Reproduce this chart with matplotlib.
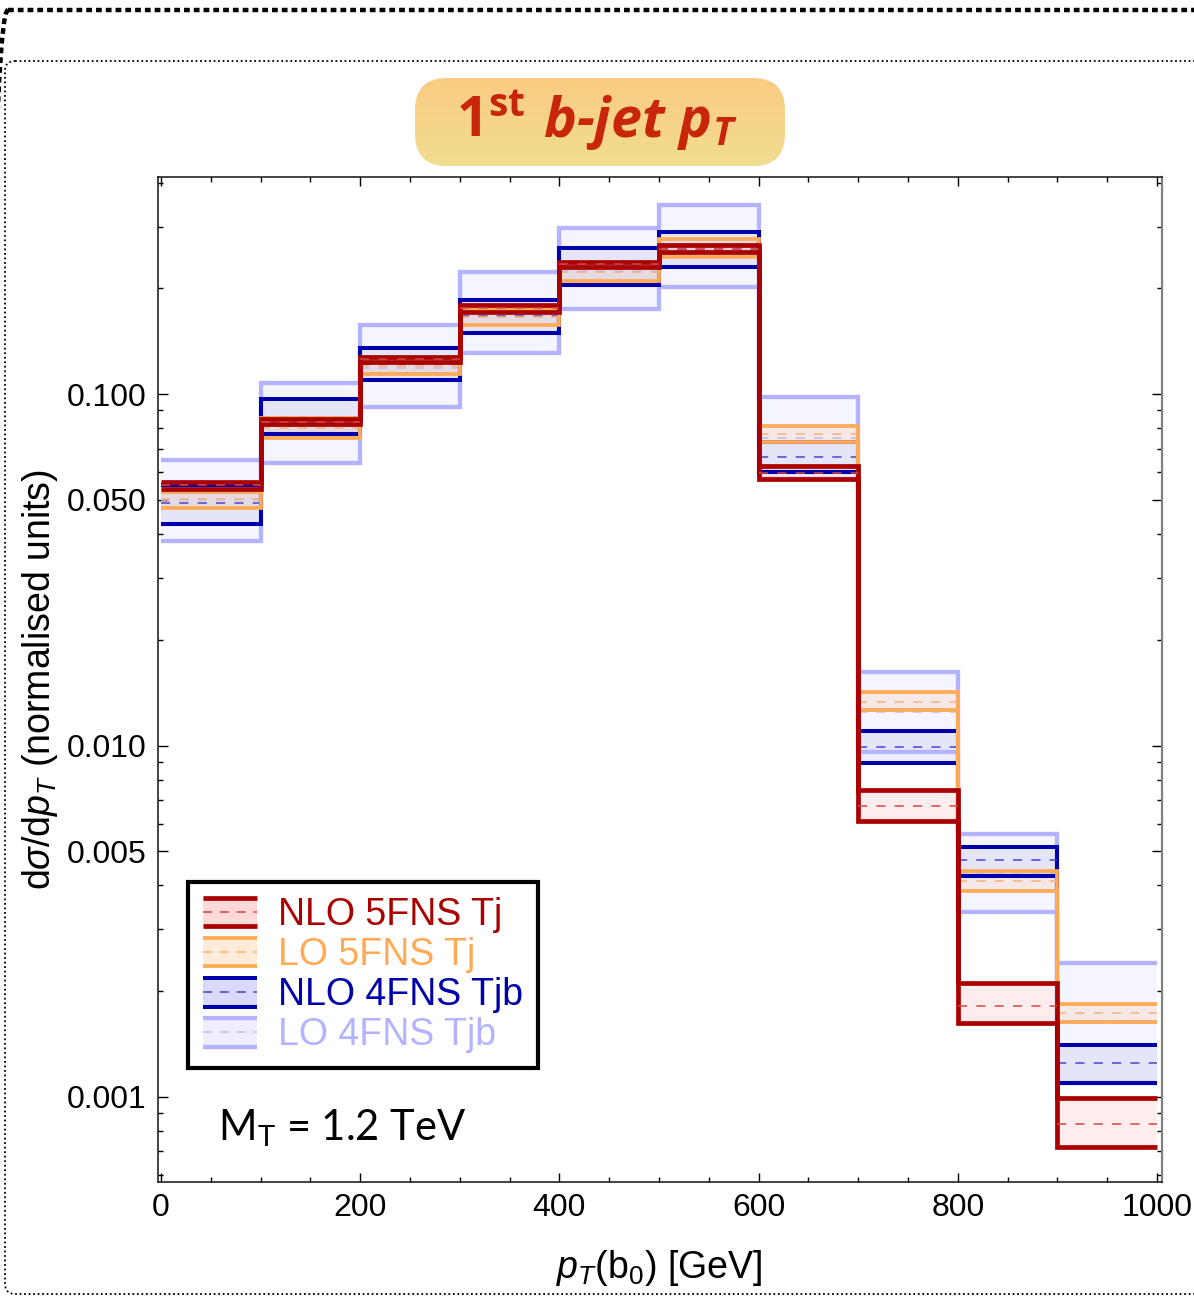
import matplotlib
matplotlib.use('Agg')
import matplotlib.pyplot as plt
import numpy as np
from matplotlib.patches import FancyBboxPatch, Rectangle
from matplotlib.lines import Line2D
from matplotlib.legend_handler import HandlerBase
from matplotlib.ticker import FixedLocator, FixedFormatter, NullFormatter
from matplotlib.colors import LinearSegmentedColormap

plt.rcParams['font.family'] = ['Liberation Sans', 'DejaVu Sans']
plt.rcParams['mathtext.fontset'] = 'custom'
plt.rcParams['mathtext.rm'] = 'Liberation Sans'
plt.rcParams['mathtext.it'] = 'Liberation Sans:italic'
plt.rcParams['mathtext.bf'] = 'Liberation Sans:bold'

# ---------------- data ----------------
edges = [0, 100, 200, 300, 400, 500, 600, 700, 800, 900, 1000]

nlo5_c  = [0.0550, 0.0836, 0.1260, 0.1757, 0.2345, 0.2591, 0.0596, 0.00671, 0.00182, 0.000839]
nlo5_hi = [0.0562, 0.0849, 0.1279, 0.1795, 0.2384, 0.2660, 0.0626, 0.00748, 0.00211, 0.000994]
nlo5_lo = [0.0538, 0.0823, 0.1238, 0.1718, 0.2307, 0.2545, 0.0574, 0.00612, 0.00162, 0.000719]

lo5_c  = [0.0503, 0.0803, 0.1206, 0.1660, 0.2233, 0.2608, 0.0770, 0.01335, 0.00411, 0.00173]
lo5_hi = [0.0527, 0.0856, 0.1268, 0.1749, 0.2361, 0.2766, 0.0813, 0.01420, 0.00439, 0.00184]
lo5_lo = [0.0475, 0.0752, 0.1140, 0.1575, 0.2105, 0.2463, 0.0732, 0.01264, 0.00385, 0.00163]

nlo4_c  = [0.0490, 0.0864, 0.1220, 0.1674, 0.2317, 0.2590, 0.0662, 0.00994, 0.00471, 0.00125]
nlo4_hi = [0.0552, 0.0970, 0.1357, 0.1854, 0.2613, 0.2901, 0.0730, 0.01104, 0.00513, 0.00141]
nlo4_lo = [0.0428, 0.0771, 0.1098, 0.1497, 0.2046, 0.2298, 0.0602, 0.00895, 0.00426, 0.001093]

lo4_c  = [0.0500, 0.0830, 0.1186, 0.1706, 0.2247, 0.2640, 0.0750, 0.01245, 0.00435, 0.00162]
lo4_hi = [0.0649, 0.1079, 0.1575, 0.2224, 0.2978, 0.3456, 0.0984, 0.01625, 0.00561, 0.00240]
lo4_lo = [0.0382, 0.0636, 0.0922, 0.1308, 0.1748, 0.2016, 0.0574, 0.00961, 0.00336, 0.001093]

labels = ['NLO 5FNS Tj', 'LO 5FNS Tj', 'NLO 4FNS Tjb', 'LO 4FNS Tjb']

x_major = [0, 200, 400, 600, 800, 1000]
y_major = [0.001, 0.005, 0.01, 0.05, 0.1]
y_major_labels = ['0.001', '0.005', '0.010', '0.050', '0.100']

# ---------------- styles ----------------
line_cols = ['#AA0000', '#FFAA55', '#0000AA', '#B3B3FF']
dash_cols = ['#D04848', '#F6B37A', '#4646C8', '#BEBEF0']
fill_cols = ['#FF9999', '#FFAA55', '#0000AA', '#B3B3FF']
fill_alpha = [0.18, 0.16, 0.07, 0.13]
leg_fill = ['#FFD9D9', '#FFEBD8', '#DADAFF', '#EEEEFF']
lws = [3.4, 2.7, 2.9, 3.1]

W, H = 1194, 1296
fig = plt.figure(figsize=(W / 100, H / 100), dpi=100)

# ---------------- decorative frames ----------------
bg = fig.add_axes([0, 0, 1, 1], zorder=-10)
bg.set_xlim(0, W)
bg.set_ylim(H, 0)
bg.axis('off')
outer = FancyBboxPatch((-14, 10), W + 60, H + 100,
                       boxstyle='round,pad=0,rounding_size=22', fill=False,
                       ec='black', lw=3.2, linestyle=(0, (1.3, 0.9)))
bg.add_patch(outer)
inner = FancyBboxPatch((5, 61), W + 60, 1294 - 61,
                       boxstyle='round,pad=0,rounding_size=10', fill=False,
                       ec='black', lw=1.3, linestyle=(0, (1, 1.5)))
bg.add_patch(inner)

# ---------------- main axes ----------------
ax = fig.add_axes([157.5 / W, (H - 1181.7) / H, (1161.7 - 157.5) / W, (1181.7 - 177.3) / H])
ax.set_yscale('log')
ax.set_xlim(-3.5, 1004.7)
ax.set_ylim(0.000574, 0.4143)

series = [
    (nlo5_lo, nlo5_c, nlo5_hi),
    (lo5_lo, lo5_c, lo5_hi),
    (nlo4_lo, nlo4_c, nlo4_hi),
    (lo4_lo, lo4_c, lo4_hi),
]
zbase = [8, 6, 4, 2]
for i, (lo, c, hi) in enumerate(series):
    z = zbase[i]
    ax.stairs(hi, edges, baseline=lo, fill=True, color=fill_cols[i],
              alpha=fill_alpha[i], lw=0, zorder=1)
    ax.stairs(hi, edges, baseline=None, color=line_cols[i], lw=lws[i], zorder=z)
    ax.stairs(lo, edges, baseline=None, color=line_cols[i], lw=lws[i], zorder=z)
    ax.hlines(c, edges[:-1], edges[1:], colors=dash_cols[i], lw=1.1,
              linestyles=[(0, (6, 6))], zorder=z + 0.5)

# ticks
ax.xaxis.set_major_locator(FixedLocator(x_major))
ax.xaxis.set_minor_locator(FixedLocator(list(range(0, 1001, 50))))
ax.yaxis.set_major_locator(FixedLocator(y_major))
ax.yaxis.set_major_formatter(FixedFormatter(y_major_labels))
yminor = []
for e in [-4, -3, -2, -1]:
    for k in range(1, 10):
        yminor.append(k * 10.0 ** e)
ax.yaxis.set_minor_locator(FixedLocator(yminor))
ax.yaxis.set_minor_formatter(NullFormatter())
ax.tick_params(which='both', direction='in', top=True, right=True, width=1.0,
               labelsize=23, pad=8)
ax.tick_params(axis='x', which='major', length=6.5)
ax.tick_params(axis='x', which='minor', length=3.6)
ax.tick_params(axis='y', which='major', length=7.0)
ax.tick_params(axis='y', which='minor', length=3.8)
for s in ['left', 'bottom', 'top']:
    ax.spines[s].set_linewidth(1.1)
    ax.spines[s].set_color('#111111')
ax.spines['right'].set_linewidth(1.6)
ax.spines['right'].set_color('#808080')

ax.set_xlabel(r'$p_T$(b$_0$) [GeV]', fontsize=27, labelpad=18)
ax.set_ylabel(r'd$\sigma$/d$p_T$ (normalised units)', fontsize=27, labelpad=5)


# ---------------- legend ----------------
class BandHandle:
    def __init__(self, i):
        self.i = i


class HandlerBand(HandlerBase):
    def create_artists(self, legend, orig, xdescent, ydescent, width, height,
                       fontsize, trans):
        i = orig.i
        x0, y0 = -xdescent, -ydescent
        rect = Rectangle((x0, y0), width, height, fc=leg_fill[i], ec='none',
                         transform=trans)
        top = Line2D([x0, x0 + width], [y0 + height] * 2, color=line_cols[i],
                     lw=lws[i], solid_capstyle='butt', transform=trans)
        bot = Line2D([x0, x0 + width], [y0] * 2, color=line_cols[i],
                     lw=lws[i], solid_capstyle='butt', transform=trans)
        mid = Line2D([x0, x0 + width], [y0 + height / 2] * 2, color=dash_cols[i],
                     lw=1.1, dashes=(6, 5), transform=trans)
        return [rect, top, bot, mid]


handles = [BandHandle(i) for i in range(4)]
leg = ax.legend(handles=handles, labels=labels, handler_map={BandHandle: HandlerBand()},
                loc='upper left', bbox_to_anchor=(0.0304, 0.2984), borderaxespad=0,
                fontsize=27, handlelength=1.45, handleheight=0.8, handletextpad=0.55,
                labelspacing=0.11, borderpad=0.4, fancybox=False, edgecolor='black',
                framealpha=1)
leg.get_frame().set_linewidth(3)
for t, col in zip(leg.get_texts(), line_cols):
    t.set_color(col)
leg.set_zorder(20)

# M_T annotation
ax.text(0.060, 0.0415, r'M$_\mathregular{T}$ = 1.2 TeV', transform=ax.transAxes,
        fontsize=30, family='Lato', va='baseline', ha='left', color='black')

# ---------------- title box ----------------
tax = fig.add_axes([415 / W, (H - 166) / H, 370 / W, 88 / H])
tax.set_xlim(0, 370)
tax.set_ylim(0, 88)
tax.axis('off')
cmap = LinearSegmentedColormap.from_list('tb', ['#F0DD91', '#FBCB83'])
grad = np.linspace(0, 1, 256)[:, None]
im = tax.imshow(grad, extent=(0, 370, 0, 88), origin='lower', aspect='auto', cmap=cmap)
clip = FancyBboxPatch((0, 0), 370, 88, boxstyle='round,pad=0,rounding_size=32',
                      fill=False, lw=0, transform=tax.transData)
tax.add_patch(clip)
clip.set_visible(False)
im.set_clip_path(clip)

tcol = '#C8260A'
t1 = tax.text(456 - 415, 166 - 137, r'1$^\mathregular{st}$', fontsize=40, family='Open Sans',
              weight='bold', color=tcol, va='baseline', ha='left')
tax.annotate(r'b-jet p$_\mathregular{T}$', xy=(1.0, 166 - 137), xycoords=(t1, 'data'),
             xytext=(18, 0), textcoords='offset pixels', fontsize=40, family='Open Sans',
             weight='bold', style='italic', color=tcol, va='baseline', ha='left',
             annotation_clip=False)

fig.savefig('out.png', dpi=100, facecolor='white')
